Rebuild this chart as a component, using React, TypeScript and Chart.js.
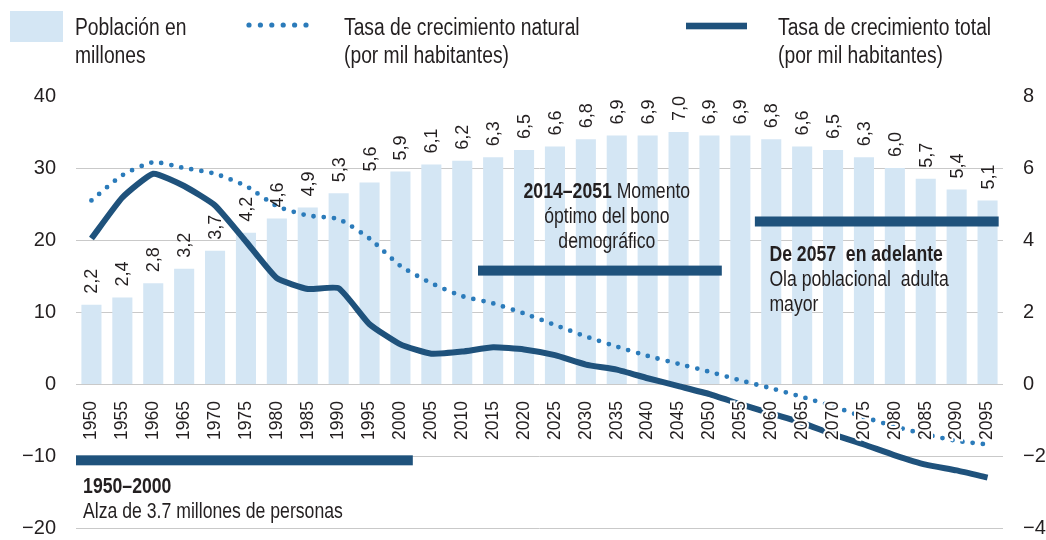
import React, { useEffect, useRef } from 'react';
import { Chart, registerables } from 'chart.js';

Chart.register(...registerables);

const years = ['1950','1955','1960','1965','1970','1975','1980','1985','1990','1995','2000','2005','2010','2015','2020','2025','2030','2035','2040','2045','2050','2055','2060','2065','2070','2075','2080','2085','2090','2095'];
const poblacion = [2.2,2.4,2.8,3.2,3.7,4.2,4.6,4.9,5.3,5.6,5.9,6.1,6.2,6.3,6.5,6.6,6.8,6.9,6.9,7.0,6.9,6.9,6.8,6.6,6.5,6.3,6.0,5.7,5.4,5.1];
const tasaNatural = [25.5,29.0,30.8,30.0,29.2,27.5,24.7,23.4,22.9,20.2,16.4,14.0,12.2,11.2,9.8,8.2,6.6,5.2,3.9,2.8,1.7,0.5,-0.6,-1.8,-3.1,-4.6,-5.9,-7.0,-7.9,-8.4];
const tasaTotal = [20.2,25.9,29.2,27.5,24.8,19.8,14.7,13.2,13.3,8.3,5.5,4.2,4.5,5.1,4.8,4.0,2.7,2.0,0.8,-0.3,-1.4,-2.8,-4.1,-5.4,-7.0,-8.4,-9.9,-11.2,-12.0,-13.0];

const leftAxis = { min: -20, max: 40, step: 10 };
const rightAxis = { min: -4, max: 8, step: 2 };

const legendLabels = [
  ['Población en', 'millones'],
  ['Tasa de crecimiento natural', '(por mil habitantes)'],
  ['Tasa de crecimiento total', '(por mil habitantes)'],
];

// Periods: category index range and left-axis value
const periodBars = [
  { from: -0.5, to: 10.4, y: -10.6 },
  { from: 12.51, to: 20.4, y: 15.75 },
  { from: 21.47, to: 29.36, y: 22.57 },
];
const periodTexts = [
  { x: -0.27, y: -15.1, align: 'left', lines: [[{ t: '1950–2000', b: true }], [{ t: 'Alza de 3.7 millones de personas', b: false }]] },
  { x: 16.68, y: 25.8, align: 'center', lines: [[{ t: '2014–2051', b: true }, { t: ' Momento', b: false }], [{ t: 'óptimo del bono', b: false }], [{ t: 'demográfico', b: false }]] },
  { x: 21.94, y: 17.1, align: 'left', lines: [[{ t: 'De 2057  en adelante', b: true }], [{ t: 'Ola poblacional  adulta', b: false }], [{ t: 'mayor', b: false }]] },
];

const FONT = "'Liberation Sans', Arial, sans-serif";
const SX = 0.82; // horizontal condensation for custom text
const TEXT = '#231f20';
const BAR = '#d4e6f4';
const NAVY = '#1f527c';
const DOT = '#2b7bba';

const fmtAxis = (v: number) => (v < 0 ? '\u2212' + Math.abs(v) : String(v));

function narrowText(ctx: CanvasRenderingContext2D, text: string, x: number, y: number) {
  ctx.save();
  ctx.translate(x, y);
  ctx.scale(SX, 1);
  ctx.fillText(text, 0, 0);
  ctx.restore();
}

const overlayPlugin = {
  id: 'overlay',
  afterDatasetsDraw(chart: any) {
    const ctx = chart.ctx;
    const xs = chart.scales.x;
    const ys = chart.scales.y;
    // bar value labels
    const meta = chart.getDatasetMeta(2);
    ctx.save();
    ctx.font = `18px ${FONT}`;
    ctx.fillStyle = TEXT;
    ctx.textAlign = 'left';
    ctx.textBaseline = 'middle';
    meta.data.forEach((el: any, i: number) => {
      const label = poblacion[i].toFixed(1).replace('.', ',');
      ctx.save();
      ctx.translate(el.x + 1, el.y - 11);
      ctx.rotate(-Math.PI / 2);
      ctx.fillText(label, 0, 0);
      ctx.restore();
    });
    // period bars
    ctx.fillStyle = NAVY;
    periodBars.forEach((p) => {
      const x1 = xs.getPixelForValue(p.from);
      const x2 = xs.getPixelForValue(p.to);
      const y = ys.getPixelForValue(p.y);
      ctx.fillRect(x1, y - 5, x2 - x1, 10);
    });
    // period texts
    ctx.textBaseline = 'alphabetic';
    ctx.textAlign = 'left';
    ctx.fillStyle = TEXT;
    periodTexts.forEach((pt) => {
      const x0 = xs.getPixelForValue(pt.x);
      const y0 = ys.getPixelForValue(pt.y);
      pt.lines.forEach((segs, li) => {
        const widths = segs.map((s) => {
          ctx.font = `${s.b ? 'bold ' : ''}21.5px ${FONT}`;
          return ctx.measureText(s.t).width * SX;
        });
        const total = widths.reduce((a, b) => a + b, 0);
        let x = pt.align === 'center' ? x0 - total / 2 : x0;
        segs.forEach((s, si) => {
          ctx.font = `${s.b ? 'bold ' : ''}21.5px ${FONT}`;
          narrowText(ctx, s.t, x, y0 + li * 25);
          x += widths[si];
        });
      });
    });
    ctx.restore();
  },
  afterDraw(chart: any) {
    const ctx = chart.ctx;
    ctx.save();
    // swatches
    ctx.fillStyle = BAR;
    ctx.fillRect(10, 11, 53, 31);
    ctx.fillStyle = DOT;
    for (let i = 0; i < 6; i++) {
      ctx.beginPath();
      ctx.arc(249 + i * 11.4, 25, 2.6, 0, Math.PI * 2);
      ctx.fill();
    }
    ctx.fillStyle = NAVY;
    ctx.fillRect(686, 22.7, 61, 6.6);
    // texts
    ctx.fillStyle = TEXT;
    ctx.font = `23.5px ${FONT}`;
    ctx.textAlign = 'left';
    ctx.textBaseline = 'alphabetic';
    const xsT = [75, 344, 778];
    legendLabels.forEach((lines, i) => {
      lines.forEach((l, li) => narrowText(ctx, l, xsT[i], 35 + li * 28));
    });
    ctx.restore();
  },
};

export default function App() {
  const ref = useRef<HTMLCanvasElement | null>(null);
  useEffect(() => {
    if (!ref.current) return;
    const chart = new Chart(ref.current, {
      type: 'bar',
      data: {
        labels: years,
        datasets: [
          {
            type: 'line',
            label: 'Tasa de crecimiento total (por mil habitantes)',
            data: tasaTotal,
            yAxisID: 'y',
            borderColor: NAVY,
            backgroundColor: NAVY,
            borderWidth: 6,
            pointRadius: 0,
            tension: 0.15,
            borderJoinStyle: 'round',
            order: 1,
          } as any,
          {
            type: 'line',
            label: 'Tasa de crecimiento natural (por mil habitantes)',
            data: tasaNatural,
            yAxisID: 'y',
            borderColor: DOT,
            backgroundColor: DOT,
            borderWidth: 4.8,
            borderDash: [0, 10.2],
            borderCapStyle: 'round',
            pointRadius: 0,
            tension: 0.2,
            order: 2,
          } as any,
          {
            type: 'bar',
            label: 'Población en millones',
            data: poblacion,
            yAxisID: 'y2',
            backgroundColor: BAR,
            barPercentage: 0.65,
            categoryPercentage: 1,
            order: 3,
          } as any,
        ],
      },
      options: {
        responsive: false,
        animation: false,
        devicePixelRatio: 1,
        layout: { padding: { top: 96, bottom: 28, left: 0, right: 0 } },
        plugins: { legend: { display: false }, tooltip: { enabled: false } },
        scales: {
          x: {
            position: { y: 0 } as any,
            grid: { display: false, drawTicks: false },
            border: { display: false },
            ticks: {
              minRotation: 90,
              maxRotation: 90,
              autoSkip: false,
              padding: 17,
              color: TEXT,
              font: { family: FONT, size: 17.5 },
              textStrokeColor: '#ffffff',
              textStrokeWidth: 4,
              z: 1,
            } as any,
          },
          y: {
            position: 'left',
            min: leftAxis.min,
            max: leftAxis.max,
            afterFit: (s: any) => { s.width = 76; },
            grid: {
              drawTicks: false,
              color: (c: any) => (c.tick && c.tick.value === leftAxis.max ? 'rgba(0,0,0,0)' : '#c9c9c9'),
              lineWidth: 1,
            },
            border: { display: false },
            ticks: {
              stepSize: leftAxis.step,
              padding: 20,
              color: TEXT,
              font: { family: FONT, size: 20 },
              callback: (v: any) => fmtAxis(Number(v)),
            },
          },
          y2: {
            position: 'right',
            min: rightAxis.min,
            max: rightAxis.max,
            afterFit: (s: any) => { s.width = 43; },
            grid: { display: false, drawTicks: false },
            border: { display: false },
            ticks: {
              stepSize: rightAxis.step,
              padding: 20,
              color: TEXT,
              font: { family: FONT, size: 20 },
              callback: (v: any) => fmtAxis(Number(v)),
            },
          },
        },
      },
      plugins: [overlayPlugin],
    });
    return () => chart.destroy();
  }, []);
  return (
    <div style={{ position: 'fixed', left: 0, top: 0, width: 1046, height: 560, background: '#fff' }}>
      <canvas ref={ref} width={1046} height={560} />
    </div>
  );
}
